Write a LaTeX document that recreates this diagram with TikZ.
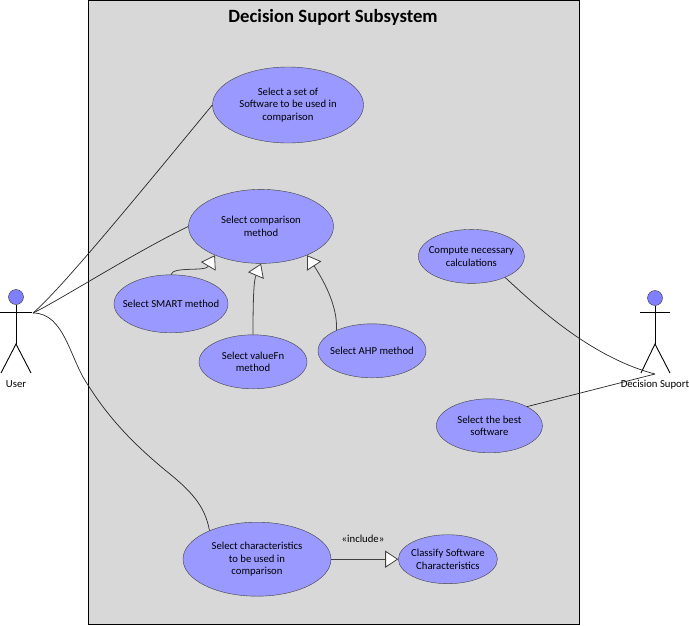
\documentclass[tikz,border=0pt]{standalone}
\usepackage{fontspec}
\setmainfont{Carlito}
\usepackage{xcolor}
\usetikzlibrary{shapes.geometric,arrows.meta,positioning}
\definecolor{usecasefill}{HTML}{9999FF}
\definecolor{headfill}{HTML}{8080FF}
\definecolor{systemfill}{HTML}{D8D8D8}
\tikzstyle{usecase}=[
draw=black!75,
ellipse,
fill=usecasefill,
inner xsep=-25pt,
inner ysep=-12pt,
align=center,
font=\fontsize{10.7}{12.6}\selectfont
]
\tikzstyle{actorhead}=[
draw=black!80,
circle,
fill=headfill,
minimum size=15pt,
inner sep=0pt
]
\tikzstyle{actorline}=[
line width=0.9pt
]
\tikzstyle{link}=[
draw=black!85,
line width=0.7pt
]
\tikzstyle{genarrow}=[
draw=black!75,
line width=0.8pt,
-{Triangle[open,fill=white,length=13pt,width=17pt]}
]
\tikzstyle{caption}=[
inner sep=0pt,
font=\fontsize{10.7}{12.6}\selectfont
]

\begin{document}
\begin{tikzpicture}[x=1pt,y=-1pt]

\useasboundingbox (0,0) rectangle (689,625);

\node (system) [draw=black, line width=0.9pt, fill=systemfill, minimum width=491pt, minimum height=624pt, inner sep=0pt] at (333.5,312) {};
\node (title) [inner sep=0pt, font=\fontsize{18.7}{22}\selectfont\bfseries] at (333,17) {Decision Suport Subsystem};

\node (setsoftware) [usecase, minimum width=151pt, minimum height=76pt] at (288,105) {Select a set of\\Software to be used in\\comparison};
\node (comparison) [usecase, minimum width=145pt, minimum height=74pt, below=46pt of setsoftware, xshift=-27pt] {Select comparison\\method};
\node (smart) [usecase, minimum width=114pt, minimum height=58pt, below=11pt of comparison, xshift=-90pt] {Select SMART method};
\node (valuefn) [usecase, minimum width=108pt, minimum height=54pt, below=71pt of comparison, xshift=-8pt] {Select valueFn\\method};
\node (ahp) [usecase, minimum width=108pt, minimum height=54pt, below=60pt of comparison, xshift=111pt] {Select AHP method};
\node (compute) [usecase, minimum width=106pt, minimum height=54pt, right=84.5pt of comparison, yshift=-30pt] {Compute necessary\\calculations};
\node (best) [usecase, minimum width=106pt, minimum height=54pt, below=115pt of compute, xshift=18pt] {Select the best\\software};
\node (characteristics) [usecase, minimum width=148pt, minimum height=74pt, below=133pt of valuefn, xshift=4pt] {Select characteristics\\to be used in\\comparison};
\node (classify) [usecase, minimum width=99pt, minimum height=49pt, right=67pt of characteristics] {Classify Software\\Characteristics};

\node (userhead) [actorhead] at (16,297) {};
\coordinate (userleft) at (0,312);
\coordinate (userright) at (32,312);
\coordinate (userhip) at (16,344);
\coordinate (userfootl) at (1,373);
\coordinate (userfootr) at (31,373);
\coordinate (userhand) at (33,313);
\node (userlabel) [caption] at (16,384) {User};

\node (dshead) [actorhead] at (655,298) {};
\coordinate (dsleft) at (640,312);
\coordinate (dsright) at (670,312);
\coordinate (dship) at (655,344);
\coordinate (dsfootl) at (641,373);
\coordinate (dsfootr) at (670,373);
\coordinate (dshand) at (655,374);
\node (dslabel) [caption] at (655,385) {Decision Suport};

\draw [actorline] (userhead) -- (userhip);
\draw [actorline] (userleft) -- (userright);
\draw [actorline] (userfootl) -- (userhip) -- (userfootr);
\draw [actorline] (dshead) -- (dship);
\draw [actorline] (dsleft) -- (dsright);
\draw [actorline] (dsfootl) -- (dship) -- (dsfootr);

\draw [link] (userhand) .. controls (60,290) and (130,205) .. (setsoftware.west);
\draw [link] (userhand) .. controls (60,300) and (130,255) .. (comparison.west);
\draw [link] (userhand) .. controls (65,313) and (70,360) .. (88,385) .. controls (110,420) and (135,445) .. (165,470) .. controls (190,490) and (205,505) .. (characteristics.149);
\draw [link] (compute.-32) .. controls (535,305) and (590,357) .. (dshand);
\draw [link] (best.27) -- (dshand);

\draw [genarrow] (smart.north) .. controls (173,266) and (205,272) .. (comparison.212);
\draw [genarrow] (valuefn.north) .. controls (253,295) and (254,280) .. (comparison.south);
\draw [genarrow] (ahp.150) .. controls (338,305) and (322,278) .. (comparison.-32);
\draw [genarrow] (characteristics.east) -- (classify.west);

\node (include) [caption] at (363,539) {«include»};

\end{tikzpicture}
\end{document}
